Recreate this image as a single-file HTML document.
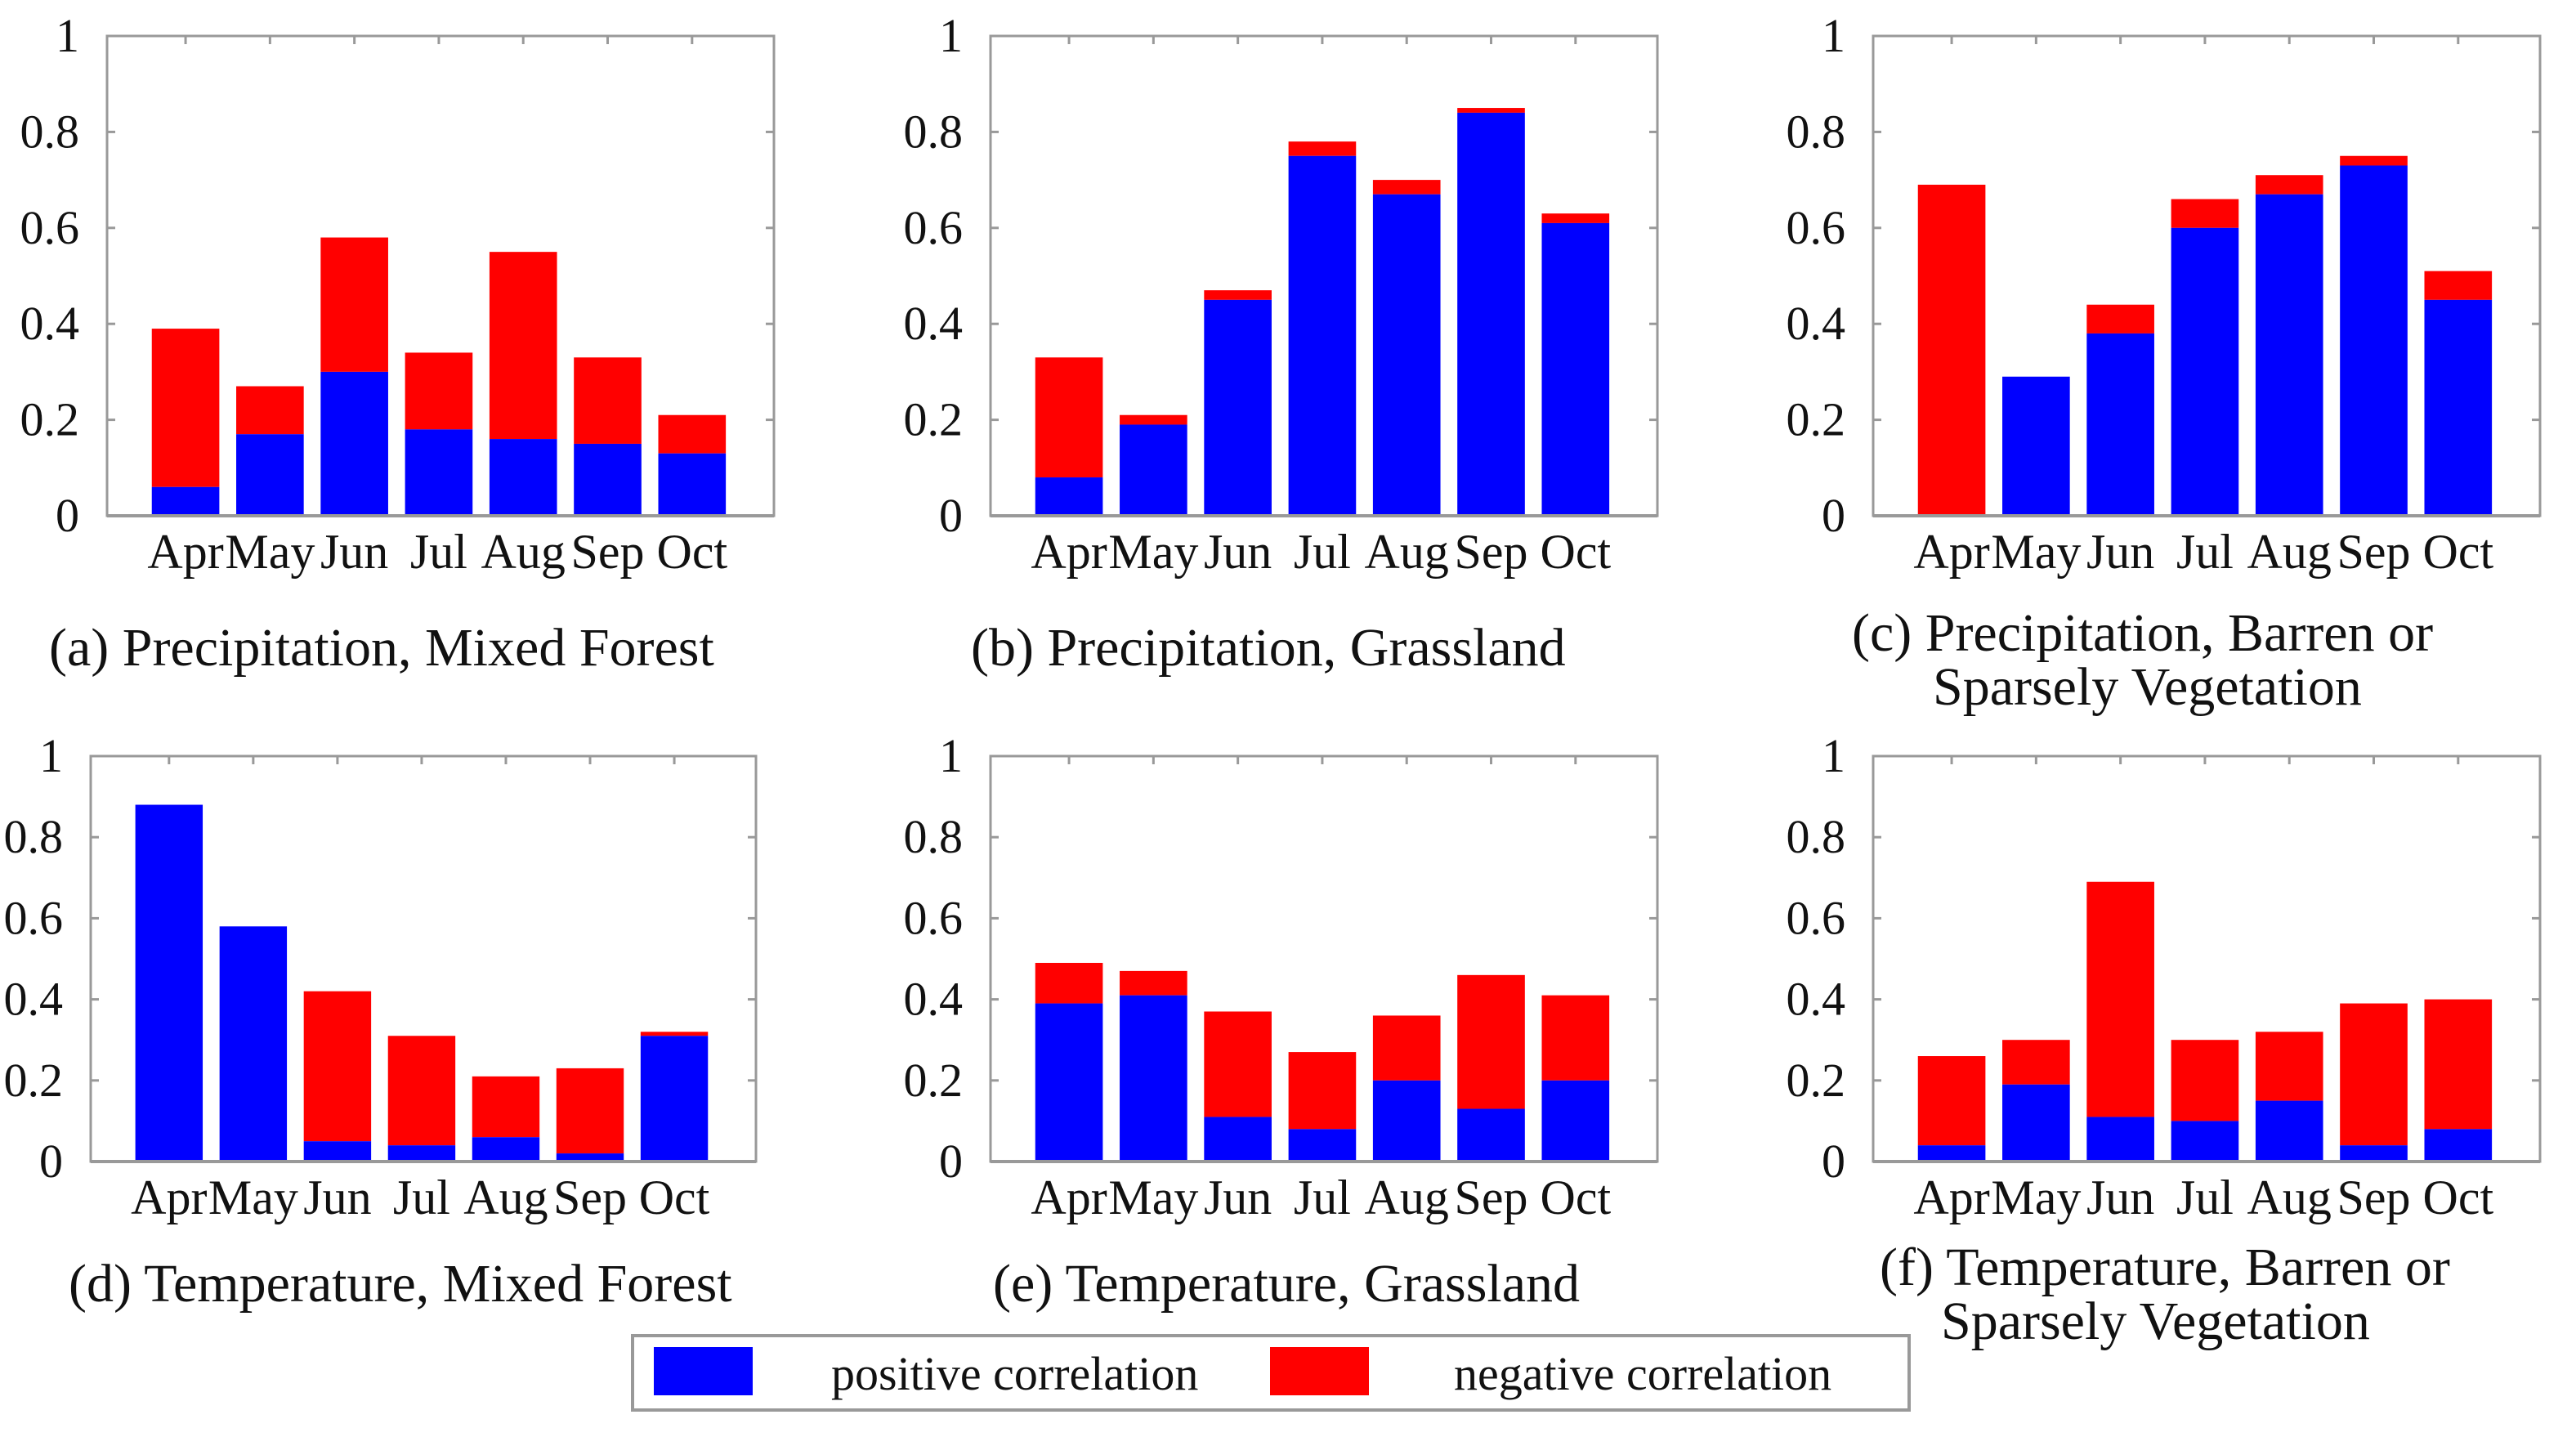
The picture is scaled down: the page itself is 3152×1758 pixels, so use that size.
<!DOCTYPE html>
<html><head><meta charset="utf-8">
<style>
html,body{margin:0;padding:0;background:#fff;}
svg{display:block;font-family:"Liberation Serif",serif;}
</style></head>
<body>
<svg id="fig" width="3152" height="1758" viewBox="0 0 3152 1758" xmlns="http://www.w3.org/2000/svg">
<rect width="3152" height="1758" fill="#fff"/>
<g id="legend">
  <rect x="774" y="1634" width="1562" height="91" fill="#fff" stroke="#999" stroke-width="4"/>
  <rect x="800" y="1648" width="121" height="59" fill="#0000ff"/>
  <text x="1017" y="1700" font-size="58" fill="#111">positive correlation</text>
  <rect x="1554" y="1648" width="121" height="59" fill="#ff0000"/>
  <text x="1779" y="1700" font-size="58" fill="#111">negative correlation</text>
</g>
</svg>
<script>
const months = ["Apr","May","Jun","Jul","Aug","Sep","Oct"];
const yTicks = [0,0.2,0.4,0.6,0.8,1];
const yTickLabels = ["0","0.2","0.4","0.6","0.8","1"];
const posA = [0.06,0.17,0.30,0.18,0.16,0.15,0.13];
const totA = [0.39,0.27,0.58,0.34,0.55,0.33,0.21];
const posB = [0.08,0.19,0.45,0.75,0.67,0.84,0.61];
const totB = [0.33,0.21,0.47,0.78,0.70,0.85,0.63];
const posC = [0.00,0.29,0.38,0.60,0.67,0.73,0.45];
const totC = [0.69,0.29,0.44,0.66,0.71,0.75,0.51];
const posD = [0.88,0.58,0.05,0.04,0.06,0.02,0.31];
const totD = [0.88,0.58,0.42,0.31,0.21,0.23,0.32];
const posE = [0.39,0.41,0.11,0.08,0.20,0.13,0.20];
const totE = [0.49,0.47,0.37,0.27,0.36,0.46,0.41];
const posF = [0.04,0.19,0.11,0.10,0.15,0.04,0.08];
const totF = [0.26,0.30,0.69,0.30,0.32,0.39,0.40];
const captionA = ["(a) Precipitation, Mixed Forest"];
const captionB = ["(b) Precipitation, Grassland"];
const captionC = ["(c)  Precipitation, Barren or","Sparsely Vegetation"];
const captionD = ["(d) Temperature, Mixed Forest"];
const captionE = ["(e) Temperature, Grassland"];
const captionF = ["(f)  Temperature, Barren or","Sparsely Vegetation"];

const NS="http://www.w3.org/2000/svg";
const svg=document.getElementById('fig');
const legend=document.getElementById('legend');
function mk(tag,attrs,parent){const e=document.createElementNS(NS,tag);for(const k in attrs)e.setAttribute(k,attrs[k]);parent.appendChild(e);return e;}

const panels=[
 {id:'a',pos:posA,tot:totA,cap:captionA,L:131,R:947,T:44,B:631,capX:[60],capY:[814]},
 {id:'b',pos:posB,tot:totB,cap:captionB,L:1212,R:2028,T:44,B:631,capX:[1188],capY:[814]},
 {id:'c',pos:posC,tot:totC,cap:captionC,L:2292,R:3108,T:44,B:631,capX:[2266,2365],capY:[796,862]},
 {id:'d',pos:posD,tot:totD,cap:captionD,L:111,R:925,T:925,B:1421,capX:[84],capY:[1592]},
 {id:'e',pos:posE,tot:totE,cap:captionE,L:1212,R:2028,T:925,B:1421,capX:[1215],capY:[1592]},
 {id:'f',pos:posF,tot:totF,cap:captionF,L:2292,R:3108,T:925,B:1421,capX:[2300,2375],capY:[1572,1638]}
];

panels.forEach(p=>{
  const g=mk('g',{},svg);
  
  
  svg.insertBefore(g,legend);
  const unit=(p.R-p.L)/7.9;
  const xc=i=>p.L+(i+0.93)*unit;
  const y=v=>p.B-v*(p.B-p.T);
  const bw=0.8*unit;
  mk('rect',{x:p.L,y:p.T,width:p.R-p.L,height:p.B-p.T,fill:'#fff',stroke:'#999','stroke-width':3},g);
  yTicks.forEach((t,k)=>{
    const yy=y(t);
    mk('line',{x1:p.L,y1:yy,x2:p.L+10,y2:yy,stroke:'#999','stroke-width':3},g);
    mk('line',{x1:p.R,y1:yy,x2:p.R-10,y2:yy,stroke:'#999','stroke-width':3},g);
    const tx=mk('text',{x:p.L-34,y:yy+19,'font-size':58,'text-anchor':'end',fill:'#111'},g);
    tx.textContent=yTickLabels[k];
    
    
  });
  months.forEach((m,i)=>{
    const cx=xc(i);
    mk('line',{x1:cx,y1:p.T,x2:cx,y2:p.T+10,stroke:'#999','stroke-width':3},g);
    const neg=mk('rect',{x:cx-bw/2,y:y(p.tot[i]),width:bw,height:y(p.pos[i])-y(p.tot[i]),fill:'#ff0000'},g);
    
    
    const pos=mk('rect',{x:cx-bw/2,y:y(p.pos[i]),width:bw,height:p.B-y(p.pos[i]),fill:'#0000ff'},g);
    
    
    const t=mk('text',{x:cx,y:p.B+64,'font-size':60,'text-anchor':'middle',fill:'#111'},g);
    t.textContent=m;
    
    
  });
  mk('line',{x1:p.L,y1:p.B,x2:p.R,y2:p.B,stroke:'#999','stroke-width':4},g);
  p.cap.forEach((c,k)=>{
    const t=mk('text',{x:p.capX[k],y:p.capY[k],'font-size':66,fill:'#111'},g);
    t.textContent=c;
    
    
  });
});
</script>
</body></html>
